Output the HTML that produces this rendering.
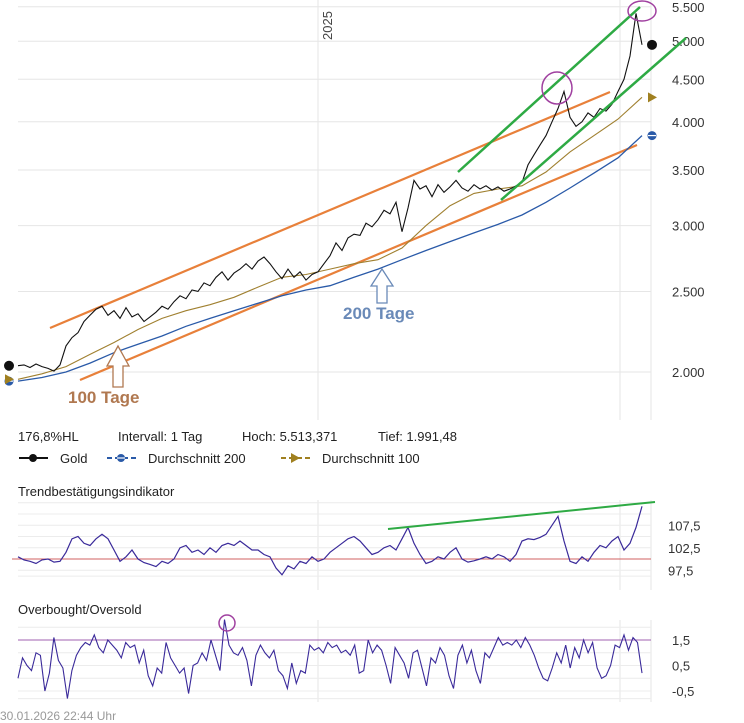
<!DOCTYPE html>
<html><head><meta charset="utf-8"><style>
html,body{margin:0;padding:0;background:#fff;}
svg{display:block;font-family:"Liberation Sans",sans-serif;}
</style></head><body>
<svg id="c" width="744" height="723" viewBox="0 0 744 723" xmlns="http://www.w3.org/2000/svg">
<g id="grid"></g>
<g id="annot-under">
  <line x1="50" y1="328" x2="610" y2="92" stroke="#e8803a" stroke-width="2.2"/>
  <line x1="80" y1="380" x2="637" y2="145" stroke="#e8803a" stroke-width="2.2"/>
</g>
<g id="series"></g>
<g id="annot">
  <line x1="458" y1="172" x2="640" y2="7" stroke="#2eaa44" stroke-width="2.5"/>
  <line x1="501" y1="200" x2="686" y2="38" stroke="#2eaa44" stroke-width="2.5"/>
  <ellipse cx="557" cy="88" rx="15" ry="16" fill="none" stroke="#a040a0" stroke-width="1.5"/>
  <ellipse cx="642" cy="11" rx="14" ry="10" fill="none" stroke="#a040a0" stroke-width="1.5"/>
  <path d="M113,387 L113,366 L107,366 L118,346 L129,366 L123,366 L123,387 Z" fill="#fff" stroke="#b07850" stroke-width="1.3"/>
  <text x="68" y="403" font-size="17" font-weight="bold" fill="#b07850">100 Tage</text>
  <path d="M377,303 L377,286 L371,286 L382,269 L393,286 L387,286 L387,303 Z" fill="#fff" stroke="#6a8ab8" stroke-width="1.3"/>
  <text x="343" y="319" font-size="17" font-weight="bold" fill="#6a8ab8">200 Tage</text>
  <circle cx="227" cy="623" r="8" fill="none" stroke="#a040a0" stroke-width="1.5"/>
</g>
<text x="0" y="0" transform="translate(332,40) rotate(-90)" font-size="13" fill="#444">2025</text>
<g font-size="13" fill="#222">
  <text x="18" y="441">176,8%HL</text>
  <text x="118" y="441">Intervall: 1 Tag</text>
  <text x="242" y="441">Hoch: 5.513,371</text>
  <text x="378" y="441">Tief:  1.991,48</text>
</g>
<g id="legend" font-size="13" fill="#222">
  <g><line x1="19" y1="458" x2="48" y2="458" stroke="#111" stroke-width="2"/><circle cx="33" cy="458" r="4" fill="#111"/><text x="60" y="463">Gold</text></g>
  <g><line x1="107" y1="458" x2="136" y2="458" stroke="#2a5aa8" stroke-width="2" stroke-dasharray="5,3"/><circle cx="121" cy="458" r="4" fill="#2a5aa8"/><line x1="117" y1="458" x2="125" y2="458" stroke="#fff" stroke-width="1.2"/><text x="148" y="463">Durchschnitt 200</text></g>
  <g><line x1="281" y1="458" x2="310" y2="458" stroke="#a08020" stroke-width="2" stroke-dasharray="5,3"/><path d="M291,453 L300,458 L291,463 Z" fill="#a08020"/><text x="322" y="463">Durchschnitt 100</text></g>
</g>
<text x="18" y="496" font-size="13" fill="#222">Trendbestätigungsindikator</text>
<text x="18" y="614" font-size="13" fill="#222">Overbought/Oversold</text>
<text x="0" y="720" font-size="12" fill="#999">30.01.2026 22:44 Uhr</text>
<script>
const goldValues=[2035,2040,2025,2045,2030,2020,2005,2040,2150,2200,2230,2300,2340,2380,2400,2340,2370,2320,2390,2330,2350,2300,2330,2360,2400,2380,2430,2470,2450,2510,2500,2560,2540,2600,2640,2580,2630,2660,2700,2660,2720,2750,2700,2640,2590,2660,2600,2640,2580,2620,2640,2700,2760,2860,2800,2900,2930,2920,3020,2990,3050,3130,3100,3200,2950,3150,3400,3320,3350,3250,3360,3290,3340,3400,3330,3300,3360,3320,3350,3310,3340,3300,3320,3350,3380,3550,3650,3750,3850,4000,4150,4350,4050,3950,4000,4100,4050,4150,4120,4200,4350,4500,4800,5400,4950];
const ma200Values=[1950,1970,2000,2050,2110,2160,2210,2270,2320,2370,2420,2470,2510,2540,2600,2660,2730,2800,2870,2940,3010,3090,3200,3330,3470,3620,3850];
const ma100Values=[1960,1990,2030,2100,2170,2250,2320,2370,2410,2460,2530,2600,2620,2660,2700,2730,2820,3000,3170,3280,3320,3350,3480,3680,3850,4030,4280];
const priceTicks=[2000,2500,3000,3500,4000,4500,5000,5500];
const priceTickLabels=["2.000","2.500","3.000","3.500","4.000","4.500","5.000","5.500"];
const trendValues=[100.5,99.8,99.5,99,99.8,100,99.3,99.5,101.5,104.5,105,103.5,103,104.5,105.5,104.5,102,99.5,100.5,102,100,99.2,98.8,98.3,99.5,99,100,102.5,103,101.5,102,101,102.5,101.5,103,103.5,103,104,103,102,102,101,100.5,98,96.5,98.5,97.8,99.5,99,100.5,99.5,100,101.5,102.5,103.5,104.5,105,104,102.5,101,101.5,102.5,103,102,104.5,107,103.5,101,99,99.5,100.5,100,101.5,102.5,100,99.3,99.6,100,100.5,100,101,100.5,99.5,101,104,104.5,104.3,104.8,105.5,107.5,109.5,104,99.5,99,100.5,99.5,101.5,103,102.5,104,105,102,103.5,107,111.7];
const trendTicks=[97.5,102.5,107.5];
const trendTickLabels=["97,5","102,5","107,5"];
const obosValues=[0.0,0.8,0.5,0.3,1.0,0.9,-0.5,0.2,1.6,0.7,0.4,-0.8,0.3,0.9,1.2,1.4,1.3,1.7,1.2,1.0,1.5,1.3,1.1,0.8,1.4,1.2,1.3,0.6,1.1,0.1,-0.3,0.4,0.2,1.4,0.8,0.5,0.2,0.4,-0.6,0.5,0.6,1.0,0.7,1.5,0.9,0.3,2.3,1.3,1.0,0.9,1.2,0.7,-0.3,0.9,1.3,1.0,0.8,1.1,0.3,0.1,-0.4,0.6,-0.2,0.3,0.2,1.3,1.1,1.2,1.0,1.4,1.2,1.3,1.0,1.1,0.9,1.3,0.2,0.3,1.5,1.0,1.3,1.1,0.5,-0.2,1.2,0.9,0.6,0.0,1.0,1.1,0.4,-0.3,0.8,0.6,1.2,0.9,0.1,-0.4,0.9,1.3,0.6,1.1,0.3,-0.2,1.0,0.8,1.2,1.6,1.3,1.4,1.3,1.5,1.2,1.6,1.3,0.9,0.4,0.0,-0.1,0.4,1.0,0.6,1.3,0.4,1.2,0.8,1.5,1.0,1.4,0.4,0.0,0.1,0.5,1.3,1.2,1.7,1.1,1.6,1.4,0.2];
const obosTicks=[-0.5,0.5,1.5];
const obosTickLabels=["-0,5","0,5","1,5"];

const NS="http://www.w3.org/2000/svg";
const X0=18,X1=642,PL=18,PR=651;
function xAt(i,n){return X0+i*(X1-X0)/(n-1);}
function yPrice(v){return 372-361*Math.log(v/2000);}
function yTrend(v){return 559-(v-100)*4.5;}
function yObos(v){return 640-(v-1.5)*25.5;}
function mk(tag,attrs,parent){const e=document.createElementNS(NS,tag);for(const k in attrs)e.setAttribute(k,attrs[k]);parent.appendChild(e);return e;}
const grid=document.getElementById('grid'),series=document.getElementById('series');

// main grid
priceTicks.forEach((t,i)=>{
  const y=yPrice(t);
  const l=mk('line',{x1:PL,x2:PR,y1:y,y2:y,stroke:'#e6e6e6','stroke-width':1},grid);
  
  
  const tx=mk('text',{x:672,y:y+5,'font-size':13,fill:'#333'},grid);
  tx.textContent=priceTickLabels[i];
  
  
});
[[318,0,420],[620,0,420],[651,0,420],[318,500,590],[620,500,590],[651,500,590],[318,620,702],[620,620,702],[651,620,702]].forEach(v=>{
  const l=mk('line',{x1:v[0],x2:v[0],y1:v[1],y2:v[2],stroke:'#e6e6e6','stroke-width':1},grid);
  
  
});
// trend panel grid
[97.5,100,102.5,105,107.5,110,112.5,96.2].forEach(t=>{
  const y=yTrend(t);
  const l=mk('line',{x1:PL,x2:PR,y1:y,y2:y,stroke:'#ececec','stroke-width':1},grid);
  
  
});
trendTicks.forEach((t,i)=>{
  const tx=mk('text',{x:668,y:yTrend(t)+5,'font-size':13,fill:'#333'},grid);
  tx.textContent=trendTickLabels[i];
  
  
});
[-0.8,-0.5,0,0.5,1,2].forEach(t=>{
  const y=yObos(t);
  const l=mk('line',{x1:PL,x2:PR,y1:y,y2:y,stroke:'#ececec','stroke-width':1},grid);
  
  
});
obosTicks.forEach((t,i)=>{
  const tx=mk('text',{x:672,y:yObos(t)+5,'font-size':13,fill:'#333'},grid);
  tx.textContent=obosTickLabels[i];
  
  
});
// reference lines
let rl=mk('line',{x1:12,x2:PR,y1:yTrend(100),y2:yTrend(100),stroke:'#d06060','stroke-width':1},grid);


rl=mk('line',{x1:PL,x2:PR,y1:yObos(1.5),y2:yObos(1.5),stroke:'#a060b0','stroke-width':1},grid);



function pathOf(vals,yf){return vals.map((v,i)=>(i?'L':'M')+xAt(i,vals.length).toFixed(1)+','+yf(v).toFixed(1)).join(' ');}
let p=mk('path',{d:pathOf(ma200Values,yPrice),fill:'none',stroke:'#2a5aa8','stroke-width':1.3},series);


p=mk('path',{d:pathOf(ma100Values,yPrice),fill:'none',stroke:'#a08030','stroke-width':1.1},series);


p=mk('path',{d:pathOf(goldValues,yPrice),fill:'none',stroke:'#111','stroke-width':1.1},series);


p=mk('path',{d:pathOf(trendValues,yTrend),fill:'none',stroke:'#3a2a9a','stroke-width':1.2},series);


p=mk('path',{d:pathOf(obosValues,yObos),fill:'none',stroke:'#3a2a9a','stroke-width':1.1},series);


// trend indicator green line
p=mk('line',{x1:388,y1:529,x2:655,y2:502,stroke:'#2eaa44','stroke-width':2},series);



// end markers
function markers(xp,gi,mi2,mi1){
  let c=mk('circle',{cx:xp,cy:yPrice(goldValues[gi]),r:5,fill:'#111'},series);
  
  
  const yb=yPrice(ma200Values[mi2]);
  c=mk('circle',{cx:xp,cy:yb,r:4.5,fill:'#2a5aa8'},series);
  
  
  mk('line',{x1:xp-4,x2:xp+4,y1:yb,y2:yb,stroke:'#fff','stroke-width':1.2},series);
  const yt=yPrice(ma100Values[mi1]);
  c=mk('path',{d:`M${xp-4},${yt-5} L${xp+5},${yt} L${xp-4},${yt+5} Z`,fill:'#a08020'},series);
  
  
}
markers(9,0,0,0);
markers(652,goldValues.length-1,ma200Values.length-1,ma100Values.length-1);
</script>
</svg>
</body></html>
